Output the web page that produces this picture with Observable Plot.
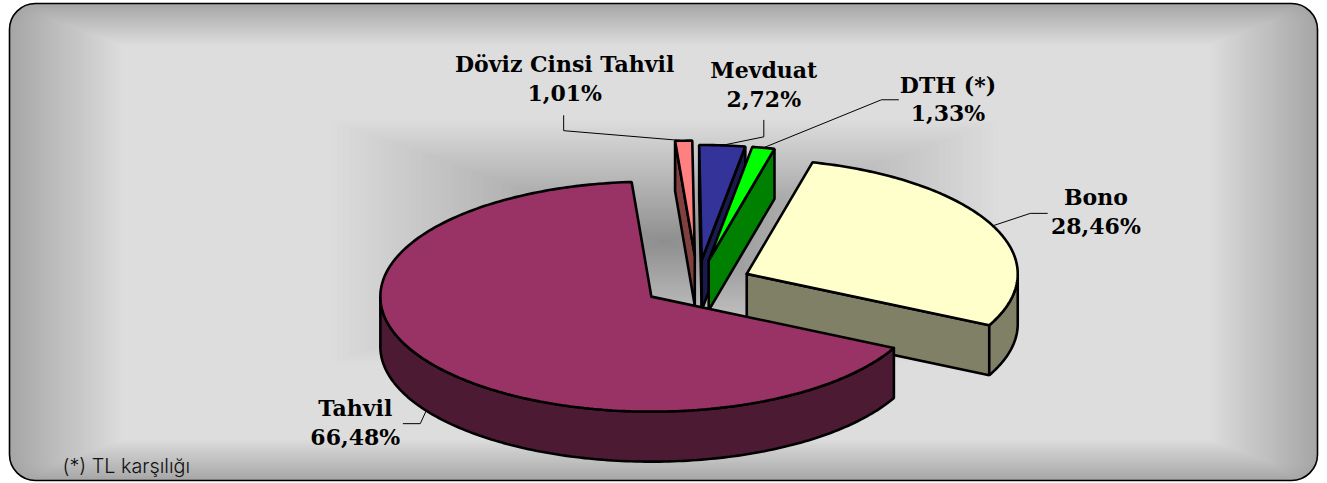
<!DOCTYPE html>
<html lang="tr">
<head>
<meta charset="utf-8">
<script src="https://cdn.jsdelivr.net/npm/d3@7"></script>
<script src="https://cdn.jsdelivr.net/npm/@observablehq/plot@0.6"></script>
<style>
html,body{margin:0;padding:0;background:#fff;}
svg{display:block;}
</style>
</head>
<body>
<div id="chart"></div>
<script>
// ---- data ----
const categories = ["Tahvil", "Döviz Cinsi Tahvil", "Mevduat", "DTH (*)", "Bono"];
const shares     = [66.48, 1.01, 2.72, 1.33, 28.46];
const explosions = [0.205, 0.243, 0.205, 0.205, 0.2];
const topColors  = ["#993366", "#FF8080", "#333399", "#00FF00", "#FFFFCC"];
const sideColors = ["#4D1A33", "#804040", "#1A1A4D", "#008000", "#808066"];
const footnote   = "(*) TL karşılığı";

// ---- pie layout ----
const W = 1327, H = 483;
const pie = {cx: 697, cy: 283, rx: 271, ry: 115, depth: 50, start: 116.5};
// label / leader placement, relative to each slice's rim anchor: [elbow, tail, label]
const leaderOffsets = [
  [[-6, 13], [-23, 13], [-71, 10.5]],
  [[-120, -10], [-120, -25], [-119, -63]],
  [[41.5, -8.5], [41.5, -25], [41.5, -62]],
  [[118, -48], [135, -48], [184.5, -50]],
  [[37.4, -12.4], [54.4, -12.4], [103, -15.5]]
];

const rad = d => d * Math.PI / 180;
const fmt = d3.formatLocale({decimal: ",", thousands: ".", grouping: [3], currency: ["", ""]}).format(".2f");

let acc = pie.start;
const slices = categories.map((name, i) => {
  let t0 = acc, t1 = acc + shares[i] * 3.6;
  acc = t1;
  if (t0 >= 360) { t0 -= 360; t1 -= 360; }
  const mid = (t0 + t1) / 2;
  const ax = pie.cx + explosions[i] * pie.rx * Math.sin(rad(mid));
  const ay = pie.cy - explosions[i] * pie.ry * Math.cos(rad(mid));
  return {i, name, share: shares[i], t0, t1, mid, ax, ay, top: topColors[i], side: sideColors[i]};
});

const rim = (s, t, drop = 0) => ({x: s.ax + pie.rx * Math.sin(rad(t)), y: s.ay - pie.ry * Math.cos(rad(t)) + drop});
const apex = (s, drop = 0) => ({x: s.ax, y: s.ay + drop});
const arc = (s, a, b, drop = 0) => {
  const n = Math.max(2, Math.ceil(Math.abs(b - a)));
  return d3.range(n + 1).map(k => rim(s, a + (b - a) * k / n, drop));
};

function facesOf(s) {
  const faces = [];
  const style = {fill: s.side};
  // cut walls
  if (Math.sin(rad(s.t0)) < 0) {
    const a = apex(s);
    faces.push({pts: [a, rim(s, s.t0), rim(s, s.t0, pie.depth), apex(s, pie.depth), a], ...style});
  }
  if (Math.sin(rad(s.t1)) > 0) {
    const a = apex(s);
    faces.push({pts: [a, rim(s, s.t1), rim(s, s.t1, pie.depth), apex(s, pie.depth), a], ...style});
  }
  // outer band: only the front half of the rim is seen
  const lo = Math.max(s.t0, 90), hi = Math.min(s.t1, 270);
  if (hi > lo) {
    const up = arc(s, lo, hi), down = arc(s, hi, lo, pie.depth);
    faces.push({pts: [...up, ...down, up[0]], ...style});
  }
  // top face
  faces.push({pts: [apex(s), ...arc(s, s.t0, s.t1), apex(s)], fill: s.top});
  return faces;
}

const drawOrder = d3.sort(slices, s => s.ay);
const sliceMarks = drawOrder.flatMap(s => facesOf(s).map(f =>
  Plot.line(f.pts, {x: "x", y: "y", fill: f.fill, stroke: "#000", strokeWidth: 2.6, strokeLinejoin: "miter", curve: "linear"})
));

// ---- leaders and labels ----
const anchors = slices.map(s => {
  const front = Math.cos(rad(s.mid)) < 0 && Math.sin(rad(s.mid)) < 0;
  return rim(s, s.mid, front ? pie.depth : 0);
});
const leaderMarks = slices.map((s, i) => {
  const a = anchors[i], [e, t] = leaderOffsets[i];
  return Plot.line([a, {x: a.x + e[0], y: a.y + e[1]}, {x: a.x + t[0], y: a.y + t[1]}],
    {x: "x", y: "y", stroke: "#000", strokeWidth: 1, strokeLinejoin: "miter", curve: "linear"});
});
const labels = slices.map((s, i) => ({
  x: anchors[i].x + leaderOffsets[i][2][0],
  y: anchors[i].y + leaderOffsets[i][2][1],
  text: `${s.name}\n${fmt(s.share)}%`
}));

// ---- background: nested rectangles forming the path gradients ----
const lerpGrey = (a, b, k) => { const v = Math.round(a + (b - a) * k); return `rgb(${v},${v},${v})`; };
const frame = {x1: 9.5, x2: 1317.5, y1: 3.5, y2: 480.5, inL: 113, inR: 108, inT: 42, inB: 41, r: 26};
const frameSteps = d3.range(0, 57).map(k => {
  const f = k / 56;
  return {
    x1: frame.x1 + frame.inL * f, x2: frame.x2 - frame.inR * f,
    y1: frame.y1 + frame.inT * f, y2: frame.y2 - frame.inB * f,
    fill: lerpGrey(166, 221, f), f
  };
});
const shadow = {x1: 325, x2: 1005, y1: 118, y2: 365};
const shadowSteps = d3.range(0, 57).map(k => {
  const f = k / 56;
  const mx = (shadow.x1 + shadow.x2) / 2, my = (shadow.y1 + shadow.y2) / 2;
  return {
    x1: shadow.x1 + (mx - shadow.x1) * f, x2: shadow.x2 - (shadow.x2 - mx) * f,
    y1: shadow.y1 + (my - shadow.y1) * f, y2: shadow.y2 - (shadow.y2 - my) * f,
    fill: lerpGrey(221, 142, f)
  };
});
const rectMark = (d, r) => Plot.rect([d], {x1: "x1", x2: "x2", y1: "y1", y2: "y2", fill: d.fill, r});

const chart = Plot.plot({
  width: W, height: H,
  marginTop: 0, marginRight: 0, marginBottom: 0, marginLeft: 0,
  x: {domain: [0, W], range: [0, W], axis: null},
  y: {domain: [0, H], range: [0, H], axis: null},
  style: {background: "transparent"},
  marks: [
    ...frameSteps.map(d => rectMark(d, Math.max(0, frame.r * (1 - d.f * 2.2)))),
    ...shadowSteps.map(d => rectMark(d, 0)),
    Plot.rect([frame], {x1: "x1", x2: "x2", y1: "y1", y2: "y2", fill: "none", stroke: "#000", strokeWidth: 1.6, r: frame.r}),
    ...leaderMarks,
    ...sliceMarks,
    Plot.text(labels, {
      x: "x", y: "y", text: "text", fontFamily: "DejaVu Serif", fontWeight: "bold",
      fontSize: 22, lineHeight: 1.31, fill: "#000", textAnchor: "middle"
    }),
    Plot.text([footnote], {
      x: () => 62, y: () => 466, text: d => d, fontFamily: "Inter", fontWeight: 300, fontSize: 19.8, fill: "#111", textAnchor: "start"
    })
  ]
});
document.getElementById("chart").append(chart);
</script>
</body>
</html>
